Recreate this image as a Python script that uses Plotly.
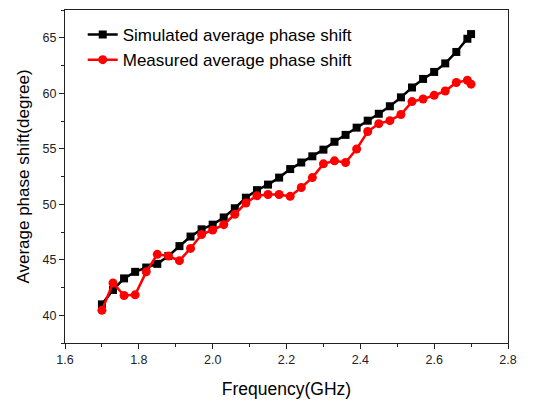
import plotly.graph_objects as go

freq = [1.70, 1.73, 1.76, 1.79, 1.82, 1.85, 1.88, 1.91, 1.94, 1.97, 2.00, 2.03,
        2.06, 2.09, 2.12, 2.15, 2.18, 2.21, 2.24, 2.27, 2.30, 2.33, 2.36, 2.39,
        2.42, 2.45, 2.48, 2.51, 2.54, 2.57, 2.60, 2.63, 2.66, 2.69, 2.70]

simulated = [40.98, 42.28, 43.32, 43.91, 44.30, 44.63, 45.34, 46.23, 47.09, 47.74,
             48.16, 48.81, 49.64, 50.59, 51.27, 51.77, 52.40, 53.17, 53.76, 54.32,
             54.92, 55.63, 56.25, 56.90, 57.53, 58.15, 58.83, 59.63, 60.52, 61.29,
             61.92, 62.69, 63.72, 64.91, 65.33]

measured = [40.44, 42.91, 41.78, 41.84, 43.91, 45.49, 45.34, 44.92, 46.02, 47.27,
            47.68, 48.16, 49.10, 50.11, 50.77, 50.88, 50.88, 50.71, 51.51, 52.40,
            53.64, 53.91, 53.76, 54.98, 56.55, 57.26, 57.53, 58.09, 59.25, 59.48,
            59.81, 60.20, 60.97, 61.17, 60.82]

x_ticks = [1.6, 1.8, 2.0, 2.2, 2.4, 2.6, 2.8]
y_ticks = [40, 45, 50, 55, 60, 65]

FONT = "Arial, Liberation Sans, sans-serif"

fig = go.Figure()
fig.add_trace(go.Scatter(
    x=freq, y=simulated, mode="lines+markers",
    name="Simulated average phase shift",
    line=dict(color="black", width=2.5),
    marker=dict(symbol="square", size=8, color="black"),
))
fig.add_trace(go.Scatter(
    x=freq, y=measured, mode="lines+markers",
    name="Measured average phase shift",
    line=dict(color="#ff0000", width=2.5),
    marker=dict(symbol="circle", size=9, color="#ff0000"),
))

axis_common = dict(
    showgrid=False, zeroline=False, showline=True, linecolor="#222222",
    linewidth=1.3, mirror=True, ticks="outside", ticklen=5, tickwidth=1.2,
    tickcolor="#222222", tickfont=dict(family=FONT, size=12.5, color="#222222"),
)

fig.update_xaxes(
    range=[1.6, 2.8], tickvals=x_ticks, ticktext=[f"{v:.1f}" for v in x_ticks],
    minor=dict(dtick=0.1, ticks="outside", ticklen=3, tickcolor="#222222", tickwidth=1.2),
    title=dict(text="Frequency(GHz)", font=dict(family=FONT, size=17.5, color="black"), standoff=16),
    **axis_common,
)
fig.update_yaxes(
    range=[37.5, 67.5], tickvals=y_ticks,
    minor=dict(dtick=2.5, ticks="outside", ticklen=3, tickcolor="#222222", tickwidth=1.2),
    title=dict(text="Average phase shift(degree)", font=dict(family=FONT, size=17, color="black"), standoff=8),
    **axis_common,
)

fig.update_layout(
    width=542, height=404,
    margin=dict(l=65, r=34, t=9, b=58),
    paper_bgcolor="white", plot_bgcolor="white",
    font=dict(family=FONT),
    legend=dict(
        x=0.04, y=0.979, xanchor="left", yanchor="top",
        bgcolor="rgba(0,0,0,0)", borderwidth=0,
        font=dict(family=FONT, size=17, color="black"),
        tracegroupgap=0, itemwidth=30,
    ),
)

fig.write_html("out.html")
